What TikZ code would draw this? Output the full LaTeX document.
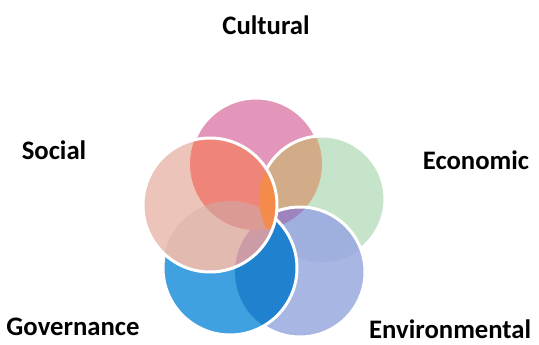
\documentclass[tikz,border=0pt]{standalone}
\usepackage{fontspec}
\setmainfont{Carlito}
\usepackage{tikz}

\definecolor{culpink}{RGB}{224,138,178}
\definecolor{socpeach}{RGB}{234,190,178}
\definecolor{ecogreen}{RGB}{192,225,196}
\definecolor{envlilac}{RGB}{159,174,225}
\definecolor{govblue}{RGB}{43,150,221}
\definecolor{culeco}{RGB}{212,168,130}
\definecolor{culsoc}{RGB}{240,128,115}
\definecolor{coreorange}{RGB}{246,140,70}
\definecolor{ecoenv}{RGB}{160,176,222}
\definecolor{culecoenv}{RGB}{158,128,186}
\definecolor{govenv}{RGB}{30,128,205}
\definecolor{socenv}{RGB}{203,152,165}
\definecolor{socgov}{RGB}{228,186,176}
\definecolor{socculgov}{RGB}{218,158,152}

\tikzstyle{petal} = [fill opacity=0.9]
\tikzstyle{rim} = [draw=white, line width=3pt]
\tikzstyle{pillar} = [font=\bfseries\fontsize{26.7}{30}\selectfont, anchor=base, inner sep=0pt]

\begin{document}
\begin{tikzpicture}[x=1pt, y=1pt]
    \useasboundingbox (0,0) rectangle (539,345);

    % Circle centres
    \coordinate (cul) at (256,181);
    \coordinate (soc) at (210,140);
    \coordinate (eco) at (322,146);
    \coordinate (env) at (300,73);
    \coordinate (gov) at (230,77);

    % Cultural
    \fill[petal, culpink] (cul) circle (66);
    \draw[rim] (cul) circle (66);

    % Economic
    \fill[petal, ecogreen] (eco) circle (63);
    \begin{scope}
        \clip (eco) circle (63);
        \fill[petal, culeco] (cul) circle (66);
    \end{scope}
    \draw[rim] (eco) circle (63);

    % Environmental
    \fill[petal, envlilac] (env) circle (65);
    \begin{scope}
        \clip (env) circle (65);
        \fill[petal, ecoenv] (eco) circle (63);
        \clip (eco) circle (63);
        \fill[petal, culecoenv] (cul) circle (66);
    \end{scope}
    \draw[rim] (env) circle (65);

    % Governance
    \fill[petal, govblue] (gov) circle (67);
    \begin{scope}
        \clip (gov) circle (67);
        \fill[petal, govenv] (env) circle (65);
    \end{scope}
    \draw[rim] (gov) circle (67);

    % Social
    \fill[petal, socpeach] (soc) circle (67);
    \begin{scope}
        \clip (soc) circle (67);
        \fill[petal, socgov] (gov) circle (67);
        \fill[petal, socenv] (env) circle (65);
        \fill[petal, culsoc] (cul) circle (66);
        \clip (cul) circle (66);
        \fill[petal, socculgov] (gov) circle (67);
        \fill[petal, coreorange] (eco) circle (63);
    \end{scope}
    \draw[rim] (soc) circle (67);

    % Labels
    \node[pillar] (cultural) at (266,310) {Cultural};
    \node[pillar] (social) at (54,185) {Social};
    \node[pillar] (economic) at (476,175) {Economic};
    \node[pillar] (governance) at (73,9) {Governance};
    \node[pillar, anchor=base west] (environmental) at (369,6) {Environmental};
\end{tikzpicture}
\end{document}
